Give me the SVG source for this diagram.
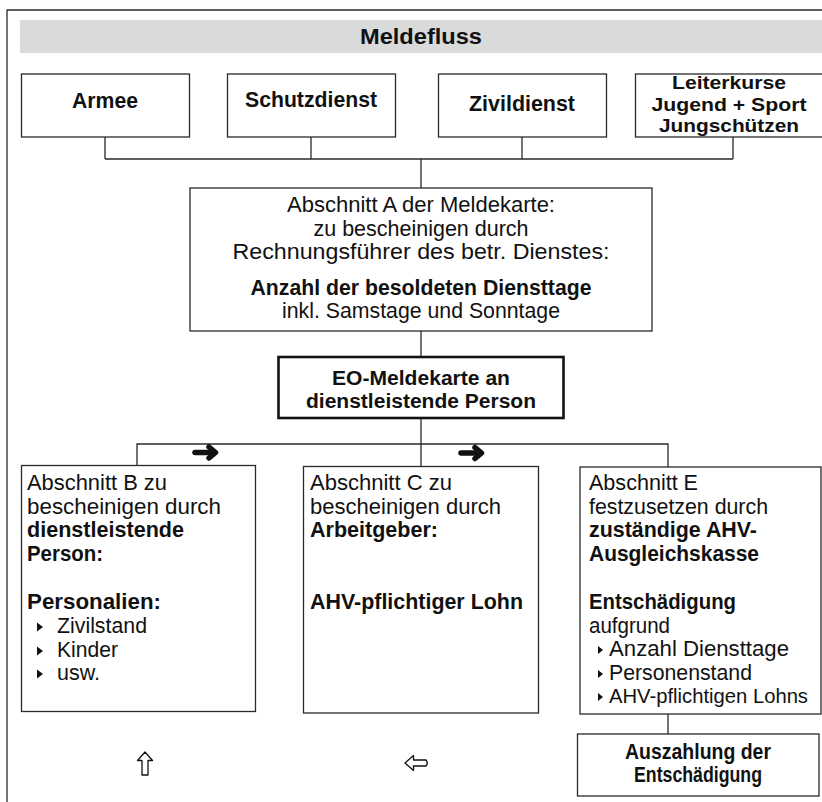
<svg xmlns="http://www.w3.org/2000/svg" width="822" height="802" viewBox="0 0 822 802">
  <style>
    .box { fill: #ffffff; stroke: #2a2a2a; stroke-width: 1.3; }
    .thick { fill: #ffffff; stroke: #111111; stroke-width: 2.6; }
    .conn { fill: none; stroke: #2a2a2a; stroke-width: 1.3; }
    .t { font-family: "Liberation Sans", Arial, Helvetica, sans-serif; font-size: 22px; fill: #111111; }
    .b { font-weight: bold; font-size: 21.5px; }
    .c { text-anchor: middle; }
    .bullet { fill: #111111; }
    .heavy { fill: none; stroke: #111111; stroke-width: 5.5; stroke-linecap: round; stroke-linejoin: round; }
    .hollow { fill: #ffffff; stroke: #111111; stroke-width: 1.3; stroke-linejoin: round; }
  </style>
  <defs>
    <g id="heavyArrow">
      <path class="heavy" d="M-11,0 H8"/>
      <path class="heavy" d="M3,-5.5 L9.5,0 L3,5.5"/>
    </g>
    <path id="tri" class="bullet" d="M0,-4.5 L6,0 L0,4.5 Z"/>
    <path id="triSmall" class="bullet" d="M0,-4 L5,0 L0,4 Z"/>
  </defs>

  <!-- outer frame and title band -->
  <path class="conn" d="M7,802 V10 H822" stroke="#3a3a3a"/>
  <rect x="20" y="20" width="802" height="33" fill="#d9dada"/>
  <text class="t b c" x="421" y="44" style="font-size:22px" textLength="122" lengthAdjust="spacingAndGlyphs">Meldefluss</text>

  <!-- connectors -->
  <g id="connectors">
    <path class="conn" d="M105,137 V159 M311,137 V159 M522,137 V159 M733,137 V159 M105,159 H733"/>
    <path class="conn" d="M421,159 V188"/>
    <path class="conn" d="M421,331 V357"/>
    <path class="conn" d="M421,418 V466.5"/>
    <path class="conn" d="M137,465.5 V444 H668 V467"/>
    <path class="conn" d="M668,714 V734"/>
    <use href="#heavyArrow" x="206" y="452.5"/>
    <use href="#heavyArrow" x="472" y="453"/>
    <!-- hollow direction arrows below the cards -->
    <path class="hollow" d="M145,752 L152.5,760.5 L148,760.5 L148,775 L142,775 L142,760.5 L137.5,760.5 Z"/>
    <path class="hollow" d="M405,763 L413.5,755.5 L413.5,760 L426,760 Q428.5,763 426,766 L413.5,766 L413.5,770.5 Z"/>
  </g>

  <!-- service types -->
  <g id="armee">
    <rect class="box" x="21.5" y="74" width="168" height="63"/>
    <text class="t b c" x="105" y="108" textLength="66" lengthAdjust="spacingAndGlyphs">Armee</text>
  </g>
  <g id="schutzdienst">
    <rect class="box" x="227.5" y="74" width="168" height="63"/>
    <text class="t b c" x="311" y="107" textLength="132" lengthAdjust="spacingAndGlyphs">Schutzdienst</text>
  </g>
  <g id="zivildienst">
    <rect class="box" x="438.5" y="74" width="168" height="63"/>
    <text class="t b c" x="522" y="111" textLength="106" lengthAdjust="spacingAndGlyphs">Zivildienst</text>
  </g>
  <g id="leiterkurse">
    <rect class="box" x="635.5" y="74" width="190" height="63"/>
    <text class="t b c" x="729" y="89" style="font-size:18.5px" textLength="114" lengthAdjust="spacingAndGlyphs">Leiterkurse</text>
    <text class="t b c" x="729" y="110.5" style="font-size:18.5px" textLength="155" lengthAdjust="spacingAndGlyphs">Jugend + Sport</text>
    <text class="t b c" x="729" y="132" style="font-size:18.5px" textLength="140" lengthAdjust="spacingAndGlyphs">Jungschützen</text>
  </g>

  <!-- section A -->
  <g id="abschnitt-a">
    <rect class="box" x="190" y="188" width="462" height="143"/>
    <text class="t c" x="421" y="212" textLength="268" lengthAdjust="spacingAndGlyphs">Abschnitt A der Meldekarte:</text>
    <text class="t c" x="421" y="236" textLength="215" lengthAdjust="spacingAndGlyphs">zu bescheinigen durch</text>
    <text class="t c" x="421" y="259" textLength="377" lengthAdjust="spacingAndGlyphs">Rechnungsführer des betr. Dienstes:</text>
    <text class="t b c" x="421" y="295" textLength="341" lengthAdjust="spacingAndGlyphs">Anzahl der besoldeten Diensttage</text>
    <text class="t c" x="421" y="318" textLength="278" lengthAdjust="spacingAndGlyphs">inkl. Samstage und Sonntage</text>
  </g>

  <!-- report card -->
  <g id="meldekarte">
    <rect class="thick" x="278.5" y="357" width="285" height="61"/>
    <text class="t b c" x="421" y="384.5" style="font-size:19.5px" textLength="178" lengthAdjust="spacingAndGlyphs">EO-Meldekarte an</text>
    <text class="t b c" x="421" y="407.5" style="font-size:19.5px" textLength="230" lengthAdjust="spacingAndGlyphs">dienstleistende Person</text>
  </g>

  <!-- section B -->
  <g id="abschnitt-b">
    <rect class="box" x="21.5" y="465.5" width="234" height="246"/>
    <text class="t" x="27" y="490" textLength="140" lengthAdjust="spacingAndGlyphs">Abschnitt B zu</text>
    <text class="t" x="27" y="514" textLength="194" lengthAdjust="spacingAndGlyphs">bescheinigen durch</text>
    <text class="t b" x="27" y="537" textLength="157" lengthAdjust="spacingAndGlyphs">dienstleistende</text>
    <text class="t b" x="27" y="561" textLength="76" lengthAdjust="spacingAndGlyphs">Person:</text>
    <text class="t b" x="27" y="609" textLength="134" lengthAdjust="spacingAndGlyphs">Personalien:</text>
    <use href="#tri" x="37" y="627"/>
    <text class="t" x="57" y="633" textLength="90" lengthAdjust="spacingAndGlyphs">Zivilstand</text>
    <use href="#tri" x="37" y="651"/>
    <text class="t" x="57" y="657" textLength="61" lengthAdjust="spacingAndGlyphs">Kinder</text>
    <use href="#tri" x="37" y="674"/>
    <text class="t" x="57" y="680" textLength="43" lengthAdjust="spacingAndGlyphs">usw.</text>
  </g>

  <!-- section C -->
  <g id="abschnitt-c">
    <rect class="box" x="303.5" y="466.5" width="235" height="246.5"/>
    <text class="t" x="310" y="490" textLength="142" lengthAdjust="spacingAndGlyphs">Abschnitt C zu</text>
    <text class="t" x="310" y="514" textLength="191" lengthAdjust="spacingAndGlyphs">bescheinigen durch</text>
    <text class="t b" x="310" y="537" textLength="128" lengthAdjust="spacingAndGlyphs">Arbeitgeber:</text>
    <text class="t b" x="310" y="609" textLength="213" lengthAdjust="spacingAndGlyphs">AHV-pflichtiger Lohn</text>
  </g>

  <!-- section E -->
  <g id="abschnitt-e">
    <rect class="box" x="580" y="467" width="241" height="247"/>
    <text class="t" x="589" y="490" textLength="109" lengthAdjust="spacingAndGlyphs">Abschnitt E</text>
    <text class="t" x="589" y="514" textLength="179" lengthAdjust="spacingAndGlyphs">festzusetzen durch</text>
    <text class="t b" x="589" y="537" textLength="168" lengthAdjust="spacingAndGlyphs">zuständige AHV-</text>
    <text class="t b" x="589" y="561" textLength="170" lengthAdjust="spacingAndGlyphs">Ausgleichskasse</text>
    <text class="t b" x="589" y="609" textLength="147" lengthAdjust="spacingAndGlyphs">Entschädigung</text>
    <text class="t" x="589" y="633" textLength="81" lengthAdjust="spacingAndGlyphs">aufgrund</text>
    <use href="#triSmall" x="598" y="650"/>
    <text class="t" x="609" y="656" textLength="180" lengthAdjust="spacingAndGlyphs">Anzahl Diensttage</text>
    <use href="#triSmall" x="598" y="674"/>
    <text class="t" x="609" y="680" textLength="143" lengthAdjust="spacingAndGlyphs">Personenstand</text>
    <use href="#triSmall" x="598" y="697"/>
    <text class="t" x="609" y="703" style="font-size:21px" textLength="199" lengthAdjust="spacingAndGlyphs">AHV-pflichtigen Lohns</text>
  </g>

  <!-- payout -->
  <g id="auszahlung">
    <rect class="box" x="577.5" y="734" width="241.5" height="62"/>
    <text class="t b c" x="698" y="759" style="font-size:22px" textLength="146" lengthAdjust="spacingAndGlyphs">Auszahlung der</text>
    <text class="t b c" x="698" y="782" style="font-size:22px" textLength="128" lengthAdjust="spacingAndGlyphs">Entschädigung</text>
  </g>
</svg>
